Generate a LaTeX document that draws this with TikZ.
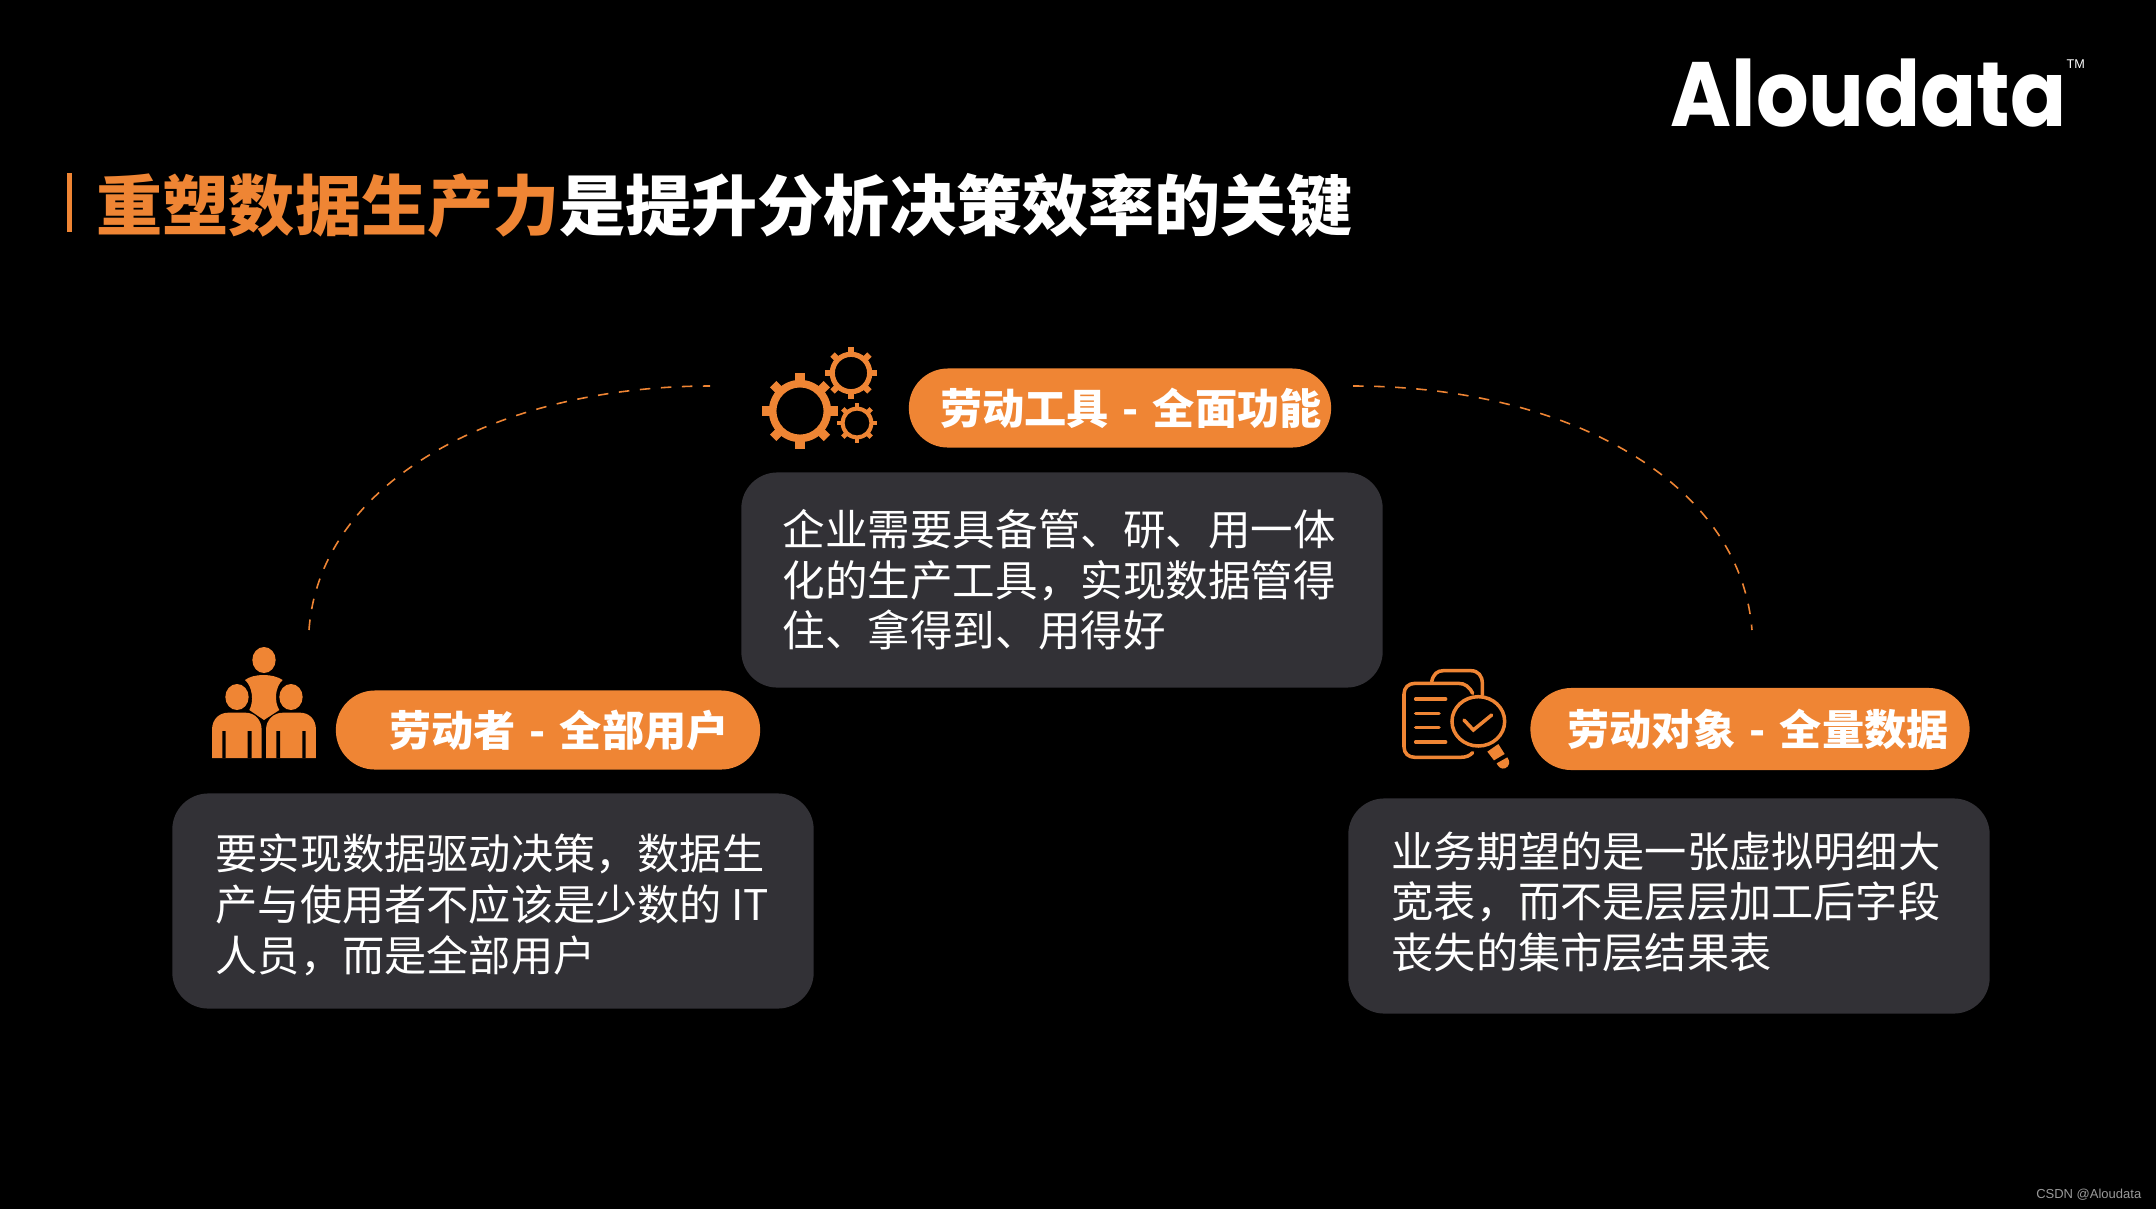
\documentclass[tikz,border=0pt]{standalone}
\usepackage{fontspec}
\setmainfont{Noto Sans CJK SC}
\newfontfamily\logofont{Poppins}
\newfontfamily\smallfont{Liberation Sans}
\usetikzlibrary{positioning,arrows.meta,calc}
\definecolor{aloOrange}{RGB}{239,133,52}
\definecolor{aloBox}{RGB}{50,49,54}
\newcommand{\drawgear}[3]{%
  \begin{scope}[shift={(#1,#2)},scale=#3]
    \fill[aloOrange,even odd rule] (0,0) circle (.82) (0,0) circle (.62);
    \foreach \a in {0,45,...,315}
      \fill[aloOrange,rotate=\a] (-.12,.72) rectangle (.12,1);
  \end{scope}}
\newcommand{\gapdash}{\hspace{.1em} - \hspace{.1em}}
\begin{document}
\begin{tikzpicture}[x=0.01cm,y=-0.01cm,
   pill/.style={fill=aloOrange,text=white,rounded corners=.39cm,minimum height=.79cm,inner sep=0pt,font=\fontsize{12}{14.4}\selectfont\bfseries},
   descbox/.style={fill=aloBox,rounded corners=.36cm,minimum width=6.41cm,minimum height=2.15cm,inner sep=0pt},
   desctext/.style={anchor=west,text=white,inner sep=0pt,align=left,font=\fontsize{12}{14.4}\selectfont},
   arcline/.style={aloOrange,dashed,line width=.45pt},
   iconline/.style={aloOrange,line width=1pt,line cap=round}]
  \useasboundingbox (0,0) rectangle (2156,1208);
  \fill[black] (-5,-5) rectangle (2161,1213);
  % title and logo
  \fill[aloOrange] (67,173) rectangle (72,232);
  \node[anchor=west,inner sep=0pt,text=white,font=\fontsize{18.8}{22}\selectfont\bfseries] (title) at (96,206)
     {{\color{aloOrange}重塑数据生产力}是提升分析决策效率的关键};
  \node[anchor=base west,inner sep=0pt,text=white,xscale=.905,transform shape,font=\fontsize{26}{30}\logofont\bfseries] (logo) at (1670,126) {Aloudata};
  \node[anchor=west,inner sep=0pt,text=white,font=\fontsize{3.6}{4}\smallfont] (tm) at (2066,64) {TM};
  \node[anchor=east,inner sep=0pt,text=white!60!black,font=\fontsize{3.7}{4}\smallfont] (csdn) at (2142,1195) {CSDN @Aloudata};
  % boxes
  \node[descbox] (boxmid) at (1062,580) {};
  \node[descbox] (boxleft) at (493,901) {};
  \node[descbox] (boxright) at (1669,906) {};
  \node[desctext,font=\fontsize{12.1}{14.4}\selectfont] (textmid) at (782,580) {企业需要具备管、研、用一体\\化的生产工具，实现数据管得\\住、拿得到、用得好};
  \node[desctext] (textleft) at (215,905) {要实现数据驱动决策，数据生\\产与使用者不应该是少数的 IT\\人员，而是全部用户};
  \node[desctext] (textright) at (1391,902) {业务期望的是一张虚拟明细大\\宽表，而不是层层加工后字段\\丧失的集市层结果表};
  % pills
  \node[pill,minimum width=4.22cm] (pillmid) at (1120,408) {\hspace*{.22cm}\raisebox{.02cm}{劳动工具\gapdash 全面功能}};
  \node[pill,minimum width=4.24cm] (pillleft) at (548,730) {\hspace*{.22cm}\raisebox{.02cm}{劳动者\gapdash 全部用户}};
  \node[pill,minimum width=4.39cm,minimum height=.82cm,rounded corners=.41cm] (pillright) at (1750,729) {\hspace*{.16cm}\raisebox{.02cm}{劳动对象\gapdash 全量数据}};
  % dashed arcs
  \coordinate (arcla) at (309,630);
  \coordinate (arclb) at (710,386);
  \coordinate (arcra) at (1353,386);
  \coordinate (arcrb) at (1752,630);
  \draw[arcline] (arcla) .. controls (320,480) and (500,386) .. (arclb);
  \draw[arcline] (arcra) .. controls (1565,386) and (1740,480) .. (arcrb);
  % gears
  \drawgear{800}{411}{38}
  \drawgear{851}{373}{26}
  \drawgear{857}{423}{20}
  % people
  \begin{scope}[shift={(190,630)},scale=1/3]
    \fill[aloOrange] (222,90) ellipse (35 and 39);
    \fill[aloOrange] (141,201) ellipse (35 and 39);
    \fill[aloOrange] (303,201) ellipse (35 and 39);
    \fill[aloOrange] (165,150) .. controls (190,130) and (250,130) .. (278,150)
       .. controls (255,170) and (252,215) .. (268,240) -- (222,270) -- (178,240)
       .. controls (192,215) and (188,170) .. (165,150) -- cycle;
    \fill[aloOrange] (66,384) -- (66,300) .. controls (66,265) and (90,248) .. (115,248) -- (166,248)
       .. controls (195,248) and (215,270) .. (215,300) -- (215,384) -- cycle;
    \fill[aloOrange] (228,384) -- (228,300) .. controls (228,270) and (250,248) .. (279,248) -- (330,248)
       .. controls (355,248) and (378,265) .. (378,300) -- (378,384) -- cycle;
    \fill[black] (97,303) rectangle (107,384) (173,303) rectangle (185,384);
    \fill[black] (259,303) rectangle (270,384) (337,303) rectangle (347,384);
  \end{scope}
  % document and magnifier
  \begin{scope}[shift={(1380,650)},scale=1/3]
    \draw[iconline] (278,130) .. controls (268,110) and (255,100) .. (235,100) -- (105,100)
       .. controls (85,100) and (72,113) .. (72,133) -- (72,290)
       .. controls (72,310) and (85,322) .. (105,322) -- (240,322) .. controls (258,322) and (268,318) .. (278,308);
    \draw[iconline] (155,95) .. controls (160,72) and (172,62) .. (190,62) -- (272,62)
       .. controls (295,62) and (307,78) .. (307,100) -- (307,135);
    \draw[iconline] (107,147) -- (197,147) (107,190) -- (177,190) (107,233) -- (177,233) (107,276) -- (197,276);
    \draw[iconline] (295,214) ellipse (79 and 74);
    \draw[iconline] (252,210) -- (280,240) -- (335,195);
    \fill[aloOrange] (322,305) -- (355,282) -- (374,312) -- (342,331) -- cycle;
    \fill[aloOrange] (350,340) -- (382,322) .. controls (392,335) and (388,350) .. (375,355) .. controls (365,358) and (355,352) .. (350,340) -- cycle;
  \end{scope}
\end{tikzpicture}
\end{document}
